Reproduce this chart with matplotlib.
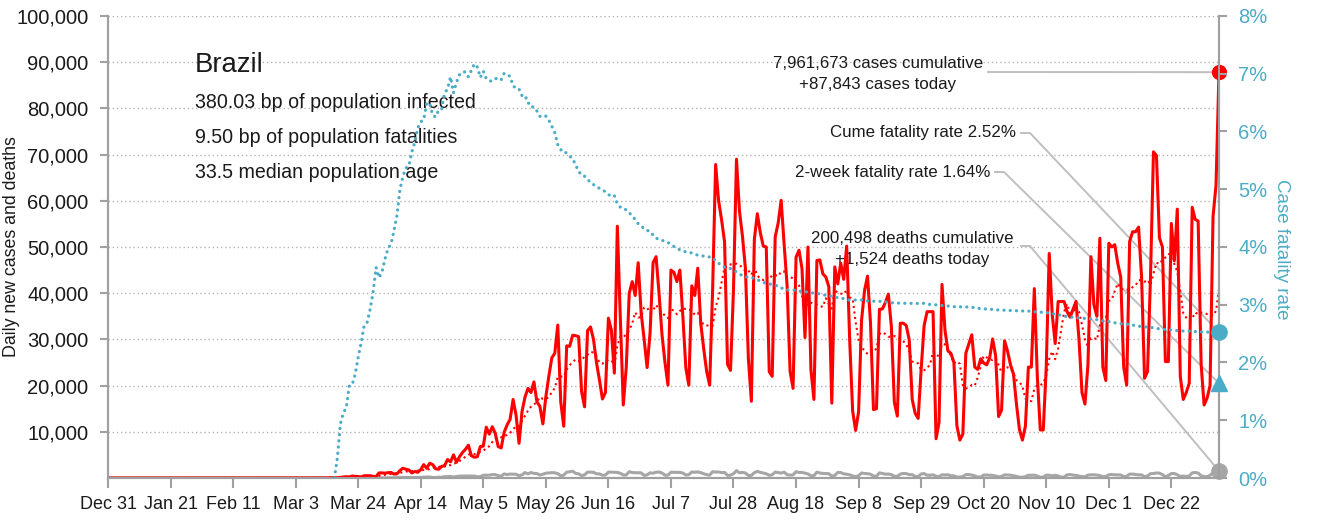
import numpy as np
import pandas as pd
import matplotlib
matplotlib.use('Agg')
import matplotlib.pyplot as plt

plt.rcParams['font.family'] = ['Liberation Sans', 'DejaVu Sans']

# ---- data ----
country = 'Brazil'
first_day = '2019-12-31'
last_day = '2021-01-07'
stats_lines = ['380.03 bp of population infected',
               '9.50 bp of population fatalities',
               '33.5 median population age']
cases_cumulative = 7961673
deaths_cumulative = 200498
cume_rate = 2.52       # %
two_week_rate = 1.64   # %

# daily new cases, Feb 26 2020 -> Jan 7 2021 (one row per week)
new_cases = [
    1, 0, 0, 0, 1, 0, 0,
    1, 0, 5, 5, 6, 6, 9,
    18, 25, 21, 23, 79, 34, 57,
    137, 193, 283, 224, 418, 345, 310,
    232, 482, 502, 487, 352, 323, 1100,
    1100, 1050, 1150, 1200, 850, 900, 1600,
    2100, 1900, 1750, 1100, 1400, 1250, 1800,
    2900, 2100, 3200, 2900, 2000, 1900, 2500,
    2700, 4000, 3500, 5000, 3400, 4600, 5500,
    6200, 7100, 4800, 4500, 4600, 6800, 6900,
    11000, 9500, 11100, 9700, 6800, 6500, 9900,
    11500, 12700, 17000, 13600, 7500, 14400, 17500,
    19400, 18500, 20800, 16500, 15500, 11700, 17600,
    22000, 26000, 27000, 33100, 16500, 11200, 28600,
    28500, 30900, 30800, 30600, 18700, 15400, 31900,
    32700, 30000, 25000, 21200, 17100, 18500, 34600,
    32000, 22700, 54500, 34700, 15800, 24000, 40000,
    42500, 39500, 46600, 35700, 30000, 23900, 31500,
    46600, 47900, 40000, 31000, 25000, 20100, 45000,
    44500, 42500, 45000, 35000, 23800, 20100, 41600,
    39500, 45400, 33500, 28000, 23000, 20100, 41000,
    67860, 60000, 55900, 51100, 24600, 23300, 40800,
    69000, 57800, 52400, 45400, 25800, 16600, 51600,
    57200, 53100, 50200, 50000, 23000, 22000, 52200,
    55200, 60100, 50600, 41600, 23100, 19400, 47800,
    49300, 45300, 30400, 50000, 23400, 17000, 47100,
    47200, 44200, 43500, 41400, 16200, 45700, 42000,
    46500, 43000, 50200, 30000, 14500, 10300, 14300,
    34200, 40600, 43700, 33500, 14800, 15000, 36500,
    36600, 38000, 39800, 32800, 16400, 13400, 33500,
    33500, 33000, 29900, 17000, 14000, 12900, 23500,
    33000, 36000, 36000, 36000, 8500, 12000, 41900,
    32000, 27500, 27000, 25000, 11300, 8200, 9500,
    27000, 29000, 31000, 24000, 23500, 25800, 24900,
    24500, 26000, 30100, 26500, 13300, 14700, 29700,
    27500, 24500, 22500, 16000, 10500, 8200, 11200,
    24000, 24000, 41000, 22000, 10400, 10400, 24000,
    48600, 35500, 29100, 38200, 38200, 38200, 36000,
    34800, 36500, 38200, 30000, 18500, 16000, 24500,
    47900, 37500, 35000, 51900, 24000, 21100, 50800,
    50000, 50500, 46500, 43500, 24000, 20100, 51200,
    53300, 53300, 54300, 43500, 21600, 23000, 43500,
    70600, 69800, 52000, 50000, 25200, 25200, 55100,
    47000, 58200, 22000, 17000, 18500, 20500, 58600,
    56000, 55600, 24600, 15800, 17300, 20000, 56600,
    63400, 87843,
]

# daily new deaths, Mar 17 2020 -> Jan 7 2021
new_deaths = [
    1, 3, 3, 4, 7, 7, 9, 12, 11, 20, 15, 22, 23, 30, 30,
    45, 55, 60, 55, 60, 70, 133, 141, 125, 100, 110, 115, 130, 136,
    188, 217, 206, 115, 113, 166, 165, 300, 300, 346, 189, 338, 400, 420, 435, 428,
    435, 421, 275, 296, 600, 615, 610, 751, 730, 496, 396, 881, 749, 844, 824,
    816, 485, 674, 1179, 888, 1188, 1001, 965, 653, 807, 1039, 1086, 1156, 1124, 956, 480,
    623, 1262, 1349, 1473, 1005, 904, 525, 679, 1272, 1274, 1239, 909, 892, 612, 627,
    1282, 1269, 1238, 1206, 1022, 641, 654, 1374, 1185, 1141, 1141, 1109, 552, 692, 1129,
    1038, 1252, 1290, 1091, 602, 620, 1254, 1223, 1220, 1214, 1071, 631, 733, 1300, 1233,
    1322, 1163, 921, 716, 632, 1367, 1284, 1311, 1156, 1211, 555, 614, 921, 1595, 1129, 1212,
    1088, 541, 561, 1154, 1437, 1226, 1079, 905, 572, 703, 1274, 1175, 1060, 1262, 720,
    620, 684, 1352, 1212, 1204, 1054, 892, 494, 494, 1271, 1085, 984, 950, 934, 366, 553,
    1215, 1184, 888, 821, 682, 447, 310, 476, 1075, 983, 934, 814, 415, 381, 1113,
    987, 829, 858, 739, 377, 336, 836, 989, 950, 729, 729, 335, 317, 863, 959,
    600, 600, 695, 363, 310, 700, 650, 703, 496, 461, 216, 201, 309, 725, 754,
    620, 461, 230, 212, 650, 640, 600, 560, 432, 263, 342, 680, 640, 620, 490, 355,
    190, 179, 297, 610, 580, 620, 430, 150, 210, 610, 590, 480, 590, 450, 180,
    216, 676, 754, 620, 570, 420, 300, 260, 630, 698, 690, 636, 530, 270, 317,
    697, 755, 694, 672, 654, 313, 376, 839, 848, 770, 674, 686, 279, 433, 936,
    964, 1092, 1054, 736, 279, 523, 963, 968, 709, 314, 425, 327, 431, 1111, 1194, 1074,
    462, 314, 293, 569, 1171, 1242, 1524,
]

# ---- derived series ----
days = pd.date_range(first_day, last_day)
cases = pd.Series(0.0, index=days)
cases.iloc[-len(new_cases):] = new_cases
deaths = pd.Series(0.0, index=days)
deaths.iloc[-len(new_deaths):] = new_deaths

avg7 = cases.rolling(7, min_periods=1).mean()
cum_c = cases.cumsum()
cum_d = deaths.cumsum()
cfr = cum_d / cum_c.replace(0, np.nan)
cfr[cum_d.shift(-1, fill_value=cum_d.iloc[-1]) == 0] = np.nan

x = np.arange(len(days))
last = x[-1]

# ---- styling ----
red = '#ff0000'
blue = '#4bacc6'
grey = '#a6a6a6'
spine_c = '#a0a0a0'
lead_c = '#bfbfbf'
txt_c = '#1a1a1a'

fig = plt.figure(figsize=(13.2, 5.2), dpi=100)
ax = fig.add_axes([108 / 1320, 42 / 520, 1111 / 1320, 462 / 520])
ax2 = ax.twinx()


def px(xp, yp):
    # pixel position (from top-left of the image) -> axes fraction
    return (xp - 108) / 1111, (478 - yp) / 462


# left axis: cases and deaths
ax.set_xlim(0, last)
ax.set_ylim(0, 100000)
ax.set_yticks(np.arange(10000, 100001, 10000))
ax.set_yticklabels([f'{v:,}' for v in range(10000, 100001, 10000)])
ax.yaxis.grid(True, linestyle=(0, (1, 2)), color='#b4b4b4', linewidth=1)
ax.xaxis.grid(False)
ax.set_axisbelow(True)

tick_pos = np.arange(0, last - 10, 21)
ax.set_xticks(tick_pos)
ax.set_xticklabels([f'{days[i]:%b} {days[i].day}' for i in tick_pos])

ax.plot(x, deaths.values, color=grey, lw=2.2, zorder=3)
ax.plot(x, avg7.values, color=red, lw=1.5, linestyle=':', zorder=3)
ax.plot(x, cases.values, color=red, lw=2.2, zorder=4)
ax.plot(last, new_cases[-1], 'o', color=red, ms=10, clip_on=False, zorder=6)
ax.plot(last, new_deaths[-1], 'o', color=grey, ms=11, clip_on=False, zorder=6)

# right axis: case fatality rate
ax2.set_ylim(0, 0.08)
ax2.set_yticks(np.arange(0, 0.081, 0.01))
ax2.set_yticklabels([f'{i}%' for i in range(9)])
ax2.plot(x, cfr.values, color=blue, lw=2.3, linestyle=(0, (0.05, 1.9)),
         dash_capstyle='round', zorder=5)
ax2.plot(last, cume_rate / 100, 'o', color=blue, ms=11, clip_on=False, zorder=6)
ax2.plot(last, two_week_rate / 100, '^', color=blue, ms=12, clip_on=False, zorder=6)

for a in (ax, ax2):
    a.spines['top'].set_visible(False)
    for s in ('left', 'right', 'bottom'):
        a.spines[s].set_color(spine_c)
        a.spines[s].set_linewidth(1.5)

ax.tick_params(axis='y', length=6, width=1.5, color=spine_c, labelsize=14.5,
               labelcolor=txt_c, pad=8)
ax.tick_params(axis='x', length=7, width=1.5, color=spine_c, labelsize=13,
               labelcolor=txt_c, pad=6)
ax2.tick_params(axis='y', length=6, width=1.5, color=spine_c, labelsize=14.5,
                labelcolor=blue, pad=8)

ax.set_ylabel('Daily new cases and deaths', fontsize=12.8, color=txt_c)
ax.yaxis.set_label_coords(-0.079, 0.5)
ax2.set_ylabel('Case fatality rate', fontsize=13.5, color=blue, rotation=270,
               va='center')
ax2.yaxis.set_label_coords(1.0567, 0.496)

# country summary
ax.text(*px(195, 65), country, transform=ax.transAxes, fontsize=19.8,
        color=txt_c, ha='left', va='center')
for i, line in enumerate(stats_lines):
    ax.text(*px(195, 103 + 34.5 * i), line, transform=ax.transAxes,
            fontsize=14.1, color=txt_c, ha='left', va='center')


# callouts with leader lines to the latest values
def leader(pts):
    xs, ys = zip(*pts)
    ax.plot(xs, ys, color=lead_c, lw=1.4, transform=ax.transAxes,
            clip_on=False, zorder=2)


ann_size = 12.2
ax.text(*px(878, 74),
        f'{cases_cumulative:,} cases cumulative\n+{new_cases[-1]:,} cases today',
        transform=ax.transAxes, fontsize=ann_size, color=txt_c, ha='center',
        va='center', linespacing=1.45)
leader([px(988, 72), (1, new_cases[-1] / 100000)])

ax.text(*px(1016, 133), f'Cume fatality rate {cume_rate:.2f}%',
        transform=ax.transAxes, fontsize=ann_size, color=txt_c, ha='right', va='center')
leader([px(1021, 133), px(1030, 133), (1, cume_rate / 8)])

ax.text(*px(990, 172), f'2-week fatality rate {two_week_rate:.2f}%',
        transform=ax.transAxes, fontsize=ann_size, color=txt_c, ha='right', va='center')
leader([px(995, 172), px(1004, 172), (1, two_week_rate / 8)])

ax.text(*px(912, 249),
        f'{deaths_cumulative:,} deaths cumulative\n+{new_deaths[-1]:,} deaths today',
        transform=ax.transAxes, fontsize=ann_size, color=txt_c, ha='center',
        va='center', linespacing=1.45)
leader([px(1021, 246), px(1030, 246), (1, new_deaths[-1] / 100000)])

fig.savefig('out.png', dpi=100)
